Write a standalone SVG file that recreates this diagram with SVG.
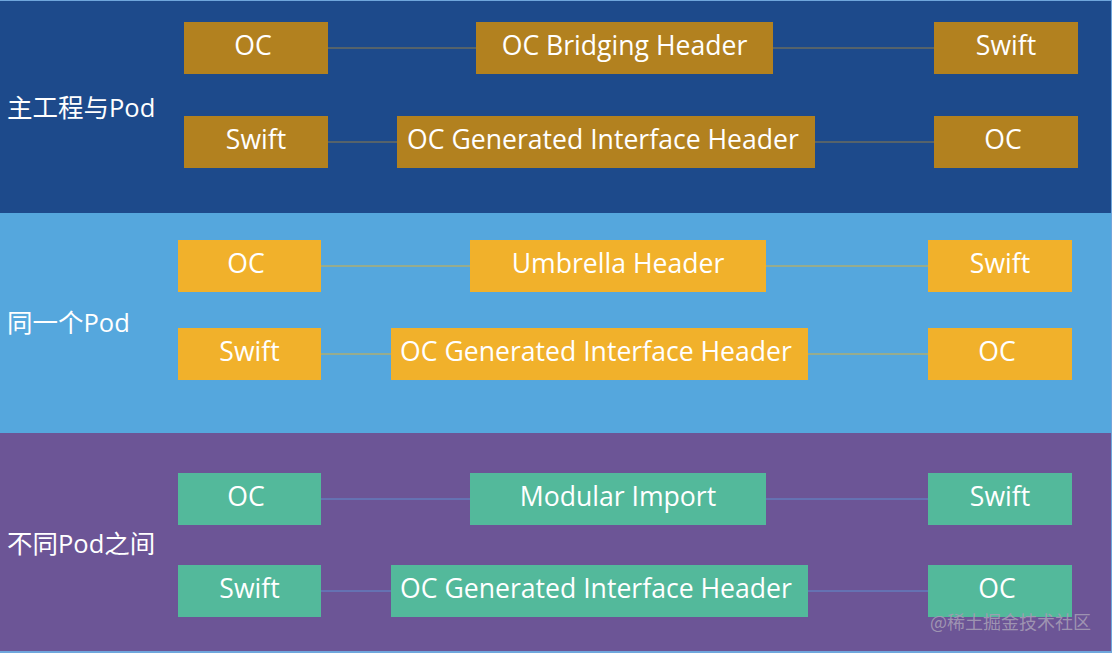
<svg xmlns="http://www.w3.org/2000/svg" width="1112" height="653" viewBox="0 0 1112 653">
<style>
.lbl{font-family:"Open Sans","Noto Sans CJK SC",sans-serif;font-size:26.6px;fill:#ffffff}
.side{font-family:"Open Sans","Noto Sans CJK SC",sans-serif;font-size:25.5px;fill:#ffffff}
.b1{fill:#b2811f}
.b2{fill:#f1b12b}
.b3{fill:#53b99b}
.c1{stroke:#8f7d4a;stroke-width:1;fill:none}
.c2{stroke:#d9b13f;stroke-width:1;fill:none}
.c3{stroke:#5f8fcf;stroke-width:1;fill:none}
.wm{font-family:"Noto Sans CJK SC",sans-serif;font-size:18px;fill:#a59cb5;fill-opacity:0.9}
</style>
<rect x="0" y="0" width="1112" height="653" fill="#6fa6dc"/>
<rect x="0" y="1" width="1111" height="212" fill="#1d4a8b"/>
<rect x="0" y="213" width="1111" height="220" fill="#55a7dd"/>
<rect x="0" y="433" width="1111" height="218" fill="#6c5596"/>
<g id="labels">
<text class="side" x="7" y="117">主工程与Pod</text>
<text class="side" x="7" y="332">同一个Pod</text>
<text class="side" x="7" y="553">不同Pod之间</text>
</g>
<g id="connectors">
<line class="c1" x1="328" y1="48" x2="476" y2="48"/>
<line class="c1" x1="773" y1="48" x2="934" y2="48"/>
<line class="c1" x1="328" y1="142" x2="397" y2="142"/>
<line class="c1" x1="815" y1="142" x2="934" y2="142"/>
<line class="c2" x1="321" y1="266" x2="470" y2="266"/>
<line class="c2" x1="766" y1="266" x2="928" y2="266"/>
<line class="c2" x1="321" y1="354" x2="391" y2="354"/>
<line class="c2" x1="808" y1="354" x2="928" y2="354"/>
<line class="c3" x1="321" y1="499" x2="470" y2="499"/>
<line class="c3" x1="766" y1="499" x2="928" y2="499"/>
<line class="c3" x1="321" y1="591" x2="391" y2="591"/>
<line class="c3" x1="808" y1="591" x2="928" y2="591"/>
</g>
<g id="n1"><rect class="b1" x="184" y="22" width="144" height="52"/><text class="lbl" x="253" y="55" text-anchor="middle">OC</text></g>
<g id="n2"><rect class="b1" x="476" y="22" width="297" height="52"/><text class="lbl" x="624.500" y="55" text-anchor="middle">OC Bridging Header</text></g>
<g id="n3"><rect class="b1" x="934" y="22" width="144" height="52"/><text class="lbl" x="1006" y="55" text-anchor="middle">Swift</text></g>
<g id="n4"><rect class="b1" x="184" y="116" width="144" height="52"/><text class="lbl" x="256" y="149" text-anchor="middle">Swift</text></g>
<g id="n5"><rect class="b1" x="397" y="116" width="418" height="52"/><text class="lbl" x="603" y="149" text-anchor="middle">OC Generated Interface Header</text></g>
<g id="n6"><rect class="b1" x="934" y="116" width="144" height="52"/><text class="lbl" x="1003" y="149" text-anchor="middle">OC</text></g>
<g id="n7"><rect class="b2" x="178" y="240" width="143" height="52"/><text class="lbl" x="246" y="273" text-anchor="middle">OC</text></g>
<g id="n8"><rect class="b2" x="470" y="240" width="296" height="52"/><text class="lbl" x="618" y="273" text-anchor="middle">Umbrella Header</text></g>
<g id="n9"><rect class="b2" x="928" y="240" width="144" height="52"/><text class="lbl" x="1000" y="273" text-anchor="middle">Swift</text></g>
<g id="n10"><rect class="b2" x="178" y="328" width="143" height="52"/><text class="lbl" x="249.500" y="361" text-anchor="middle">Swift</text></g>
<g id="n11"><rect class="b2" x="391" y="328" width="417" height="52"/><text class="lbl" x="596" y="361" text-anchor="middle">OC Generated Interface Header</text></g>
<g id="n12"><rect class="b2" x="928" y="328" width="144" height="52"/><text class="lbl" x="997" y="361" text-anchor="middle">OC</text></g>
<g id="n13"><rect class="b3" x="178" y="473" width="143" height="52"/><text class="lbl" x="246" y="506" text-anchor="middle">OC</text></g>
<g id="n14"><rect class="b3" x="470" y="473" width="296" height="52"/><text class="lbl" x="618" y="506" text-anchor="middle">Modular Import</text></g>
<g id="n15"><rect class="b3" x="928" y="473" width="144" height="52"/><text class="lbl" x="1000" y="506" text-anchor="middle">Swift</text></g>
<g id="n16"><rect class="b3" x="178" y="565" width="143" height="52"/><text class="lbl" x="249.500" y="598" text-anchor="middle">Swift</text></g>
<g id="n17"><rect class="b3" x="391" y="565" width="417" height="52"/><text class="lbl" x="596" y="598" text-anchor="middle">OC Generated Interface Header</text></g>
<g id="n18"><rect class="b3" x="928" y="565" width="144" height="52"/><text class="lbl" x="997" y="598" text-anchor="middle">OC</text></g>
<text class="wm" x="930" y="629">@稀土掘金技术社区</text>
</svg>
